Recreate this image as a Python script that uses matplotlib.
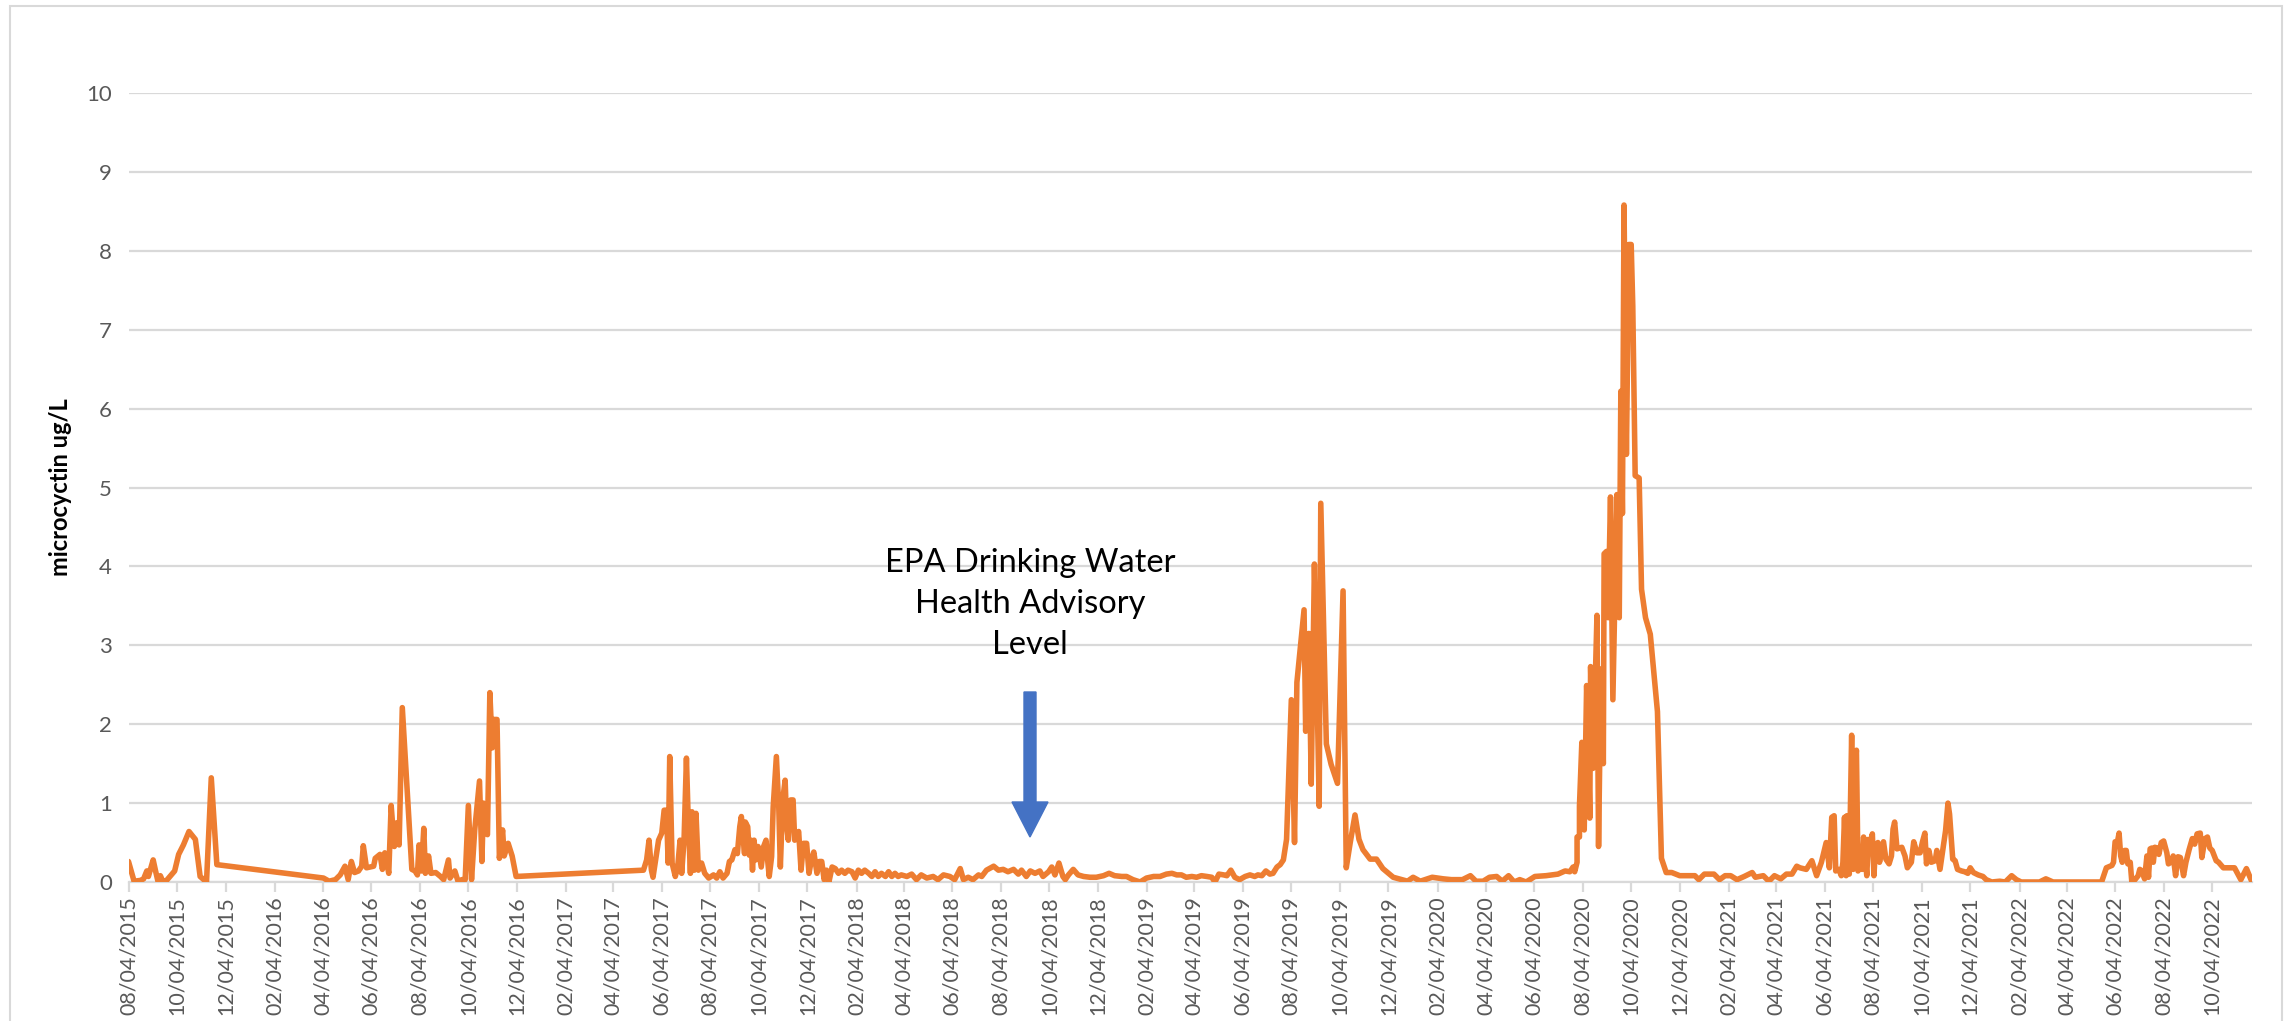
import matplotlib
matplotlib.use("Agg")
import matplotlib.pyplot as plt
import matplotlib.dates as mdates
from matplotlib.patches import FancyArrow, Rectangle
import pandas as pd

plt.rcParams['font.family'] = ['Lato', 'DejaVu Sans']

# ---------------- data ----------------
start_date = "2015-08-04"
end_date = "2022-11-23"

# days since start_date of each sample
day_offsets = [
    0, 7, 15, 19, 23, 25, 27, 31, 34, 37, 40, 43, 47, 52, 58, 63, 69, 76, 84, 90, 98, 104, 111,
    245, 252, 260, 266, 272, 276, 280, 284, 289, 293, 295, 299, 308, 310, 316, 319, 322, 327,
    330, 334, 337, 339, 340, 344, 356, 360, 363, 365, 368, 371, 373, 377, 380, 386, 392, 396,
    402, 404, 410, 414, 419, 423, 427, 431, 435, 441, 444, 446, 449, 451, 454, 457, 459, 463,
    466, 470, 472, 477, 482, 487,
    647, 651, 654, 657, 659, 666, 670, 673, 676, 678, 680, 683, 687, 690, 693, 695, 698, 701,
    703, 706, 708, 711, 713, 716, 720, 724, 729, 735, 739, 743, 747, 752, 755, 758, 762, 765,
    768, 770, 774, 775, 778, 780, 782, 784, 786, 788, 791, 795, 798, 801, 803, 805, 808, 810,
    814, 817, 819, 822, 825, 827, 829, 832, 835, 837, 842, 845, 848, 852, 855, 858, 861, 865,
    868, 871, 874, 877, 880, 884, 888, 892, 896, 900, 904, 909, 913, 917, 921, 925, 930, 934,
    938, 942, 946, 951, 955, 959, 963, 967,
    971, 978, 984, 990, 996, 1003, 1011, 1017, 1024, 1032, 1038, 1045, 1049, 1055, 1061, 1068,
    1072, 1078, 1087, 1093, 1099, 1105, 1112, 1118, 1122, 1128, 1133, 1139, 1145, 1149, 1156,
    1160, 1164, 1169, 1174, 1177, 1181, 1187, 1193, 1200, 1208, 1216, 1225, 1232, 1239, 1248,
    1254, 1262, 1271, 1279, 1288, 1296, 1304, 1311, 1317, 1323, 1329, 1336, 1342, 1348, 1355,
    1361, 1365, 1370, 1376, 1380, 1385, 1390, 1396, 1403, 1409, 1415, 1419, 1424, 1429, 1434,
    1438, 1443, 1447, 1451,
    1455, 1461, 1465, 1468, 1477, 1479, 1483, 1486, 1490, 1493, 1496, 1498, 1505, 1511, 1519,
    1526, 1530, 1535, 1541, 1546, 1551, 1560, 1568, 1576, 1589,
    1607, 1614, 1623, 1638, 1652, 1662, 1676, 1686, 1693, 1702, 1710, 1719, 1726, 1734, 1741,
    1748, 1756, 1767, 1781, 1796,
    1805, 1811, 1815, 1817, 1820, 1820, 1823, 1823, 1826, 1829, 1832, 1834, 1836, 1837, 1840,
    1845, 1847, 1850, 1853, 1854, 1857, 1859, 1862, 1865, 1870, 1873, 1875, 1877, 1879, 1882,
    1885, 1888, 1890, 1893, 1898, 1901, 1906, 1912, 1921, 1926,
    1932, 1939, 1949, 1958, 1968, 1973, 1980, 1992, 1999, 2006, 2013, 2021, 2030, 2040, 2044,
    2054, 2061, 2068, 2076, 2083, 2090, 2096,
    2100, 2108, 2115, 2121, 2127, 2133, 2137, 2140, 2143, 2145, 2149, 2152, 2154, 2156, 2158,
    2159, 2162, 2165, 2167, 2169, 2171, 2173, 2175, 2178, 2180, 2184, 2186, 2188, 2191, 2193,
    2195, 2198, 2200, 2205, 2208, 2212, 2215, 2217, 2219, 2222, 2228, 2232, 2235, 2240, 2243,
    2247, 2251, 2254, 2257, 2259, 2262, 2265, 2270, 2272, 2276, 2279, 2283, 2286, 2288, 2292,
    2295, 2298, 2303, 2307, 2311, 2314, 2318, 2324, 2330, 2334, 2341, 2351, 2358, 2366, 2372,
    2378, 2401, 2409, 2418, 2479,
    2485, 2492, 2494, 2496, 2499, 2501, 2503, 2505, 2508, 2510, 2512, 2515, 2517, 2521, 2525,
    2527, 2530, 2533, 2536, 2538, 2540, 2542, 2544, 2546, 2549, 2551, 2554, 2557, 2561, 2563,
    2566, 2569, 2572, 2575, 2578, 2582, 2585, 2589, 2593, 2596, 2599, 2603, 2605, 2609, 2612,
    2615, 2618, 2623, 2626, 2632, 2638, 2646, 2654, 2661, 2668,
]

# microcystin concentration (ug/L)
microcystin = [
    0.26, 0.01, 0.02, 0.04, 0.14, 0.07, 0.14, 0.28, 0.14, 0.01, 0.08, 0.01, 0.01, 0.07, 0.14, 0.35, 0.47, 0.64, 0.54, 0.07, 0.00, 1.32, 0.22,
    0.05, 0.01, 0.03, 0.09, 0.20, 0.03, 0.26, 0.12, 0.14, 0.20, 0.46, 0.18, 0.20, 0.30, 0.35, 0.16, 0.37, 0.11,
    0.97, 0.45, 0.75, 0.70, 0.47, 2.21, 0.16, 0.14, 0.09, 0.47, 0.14, 0.68, 0.11, 0.33, 0.11, 0.12, 0.07, 0.03,
    0.28, 0.05, 0.14, 0.01, 0.03, 0.03, 0.97, 0.03, 0.66, 1.28, 0.26, 1.00, 0.62, 0.60, 2.40, 1.70, 2.06, 2.06,
    0.30, 0.66, 0.33, 0.49, 0.33, 0.07,
    0.15, 0.28, 0.53, 0.15, 0.06, 0.53, 0.62, 0.91, 0.91, 0.24, 1.59, 0.24, 0.07, 0.19, 0.53, 0.11, 0.53, 1.57,
    0.87, 0.11, 0.89, 0.15, 0.87, 0.15, 0.24, 0.11, 0.05, 0.09, 0.05, 0.13, 0.05, 0.11, 0.26, 0.28, 0.41, 0.36,
    0.70, 0.83, 0.36, 0.76, 0.70, 0.34, 0.53, 0.15, 0.53, 0.28, 0.45, 0.19, 0.45, 0.53, 0.28, 0.07, 0.32, 0.95,
    1.59, 0.95, 0.19, 1.04, 1.29, 0.70, 0.53, 1.04, 1.04, 0.53, 0.64, 0.15, 0.49, 0.49, 0.11, 0.28, 0.38, 0.11,
    0.26, 0.26, 0.03, 0.15, 0.00, 0.19, 0.17, 0.11, 0.15, 0.11, 0.15, 0.13, 0.05, 0.15, 0.11, 0.15, 0.11, 0.07,
    0.13, 0.07, 0.11, 0.07, 0.13, 0.07, 0.11, 0.07,
    0.09, 0.07, 0.10, 0.03, 0.09, 0.05, 0.07, 0.03, 0.09, 0.07, 0.03, 0.17, 0.03, 0.06, 0.03, 0.09,
    0.07, 0.15, 0.20, 0.15, 0.16, 0.13, 0.16, 0.10, 0.15, 0.07, 0.14, 0.11, 0.14, 0.07, 0.13,
    0.19, 0.09, 0.24, 0.07, 0.03, 0.09, 0.16, 0.09, 0.07, 0.06, 0.06, 0.08, 0.11, 0.08, 0.07,
    0.07, 0.03, 0.00, 0.05, 0.07, 0.07, 0.10, 0.11, 0.09, 0.09, 0.06, 0.07, 0.06, 0.08, 0.07,
    0.06, 0.00, 0.10, 0.09, 0.08, 0.15, 0.06, 0.03, 0.07, 0.09, 0.07, 0.09, 0.08, 0.14, 0.10,
    0.11, 0.19, 0.22, 0.28,
    0.54, 2.31, 0.50, 2.53, 3.45, 1.91, 3.15, 1.24, 4.03, 2.59, 0.96, 4.80, 1.75, 1.49, 1.25,
    3.69, 0.18, 0.50, 0.85, 0.54, 0.41, 0.29, 0.29, 0.17, 0.06,
    0.01, 0.06, 0.01, 0.06, 0.04, 0.03, 0.03, 0.08, 0.01, 0.01, 0.06, 0.07, 0.01, 0.08, 0.00,
    0.03, 0.00, 0.07, 0.08, 0.10,
    0.14, 0.13, 0.19, 0.13, 0.25, 0.57, 0.57, 0.96, 1.77, 0.66, 2.49, 1.80, 0.81, 2.73, 1.44,
    3.38, 0.45, 2.70, 1.50, 4.16, 4.19, 3.35, 4.88, 2.31, 4.91, 3.35, 6.22, 4.67, 8.58, 5.42,
    8.08, 8.08, 7.30, 5.15, 5.12, 3.71, 3.35, 3.14, 2.16, 0.30,
    0.12, 0.12, 0.08, 0.08, 0.08, 0.03, 0.10, 0.10, 0.03, 0.08, 0.08, 0.03, 0.07, 0.12, 0.06,
    0.08, 0.01, 0.08, 0.04, 0.10, 0.10, 0.20,
    0.18, 0.16, 0.27, 0.08, 0.25, 0.50, 0.18, 0.82, 0.84, 0.14, 0.16, 0.08, 0.25, 0.82, 0.08,
    0.84, 0.10, 1.86, 0.16, 1.44, 1.67, 0.14, 0.42, 0.16, 0.57, 0.08, 0.54, 0.42, 0.61, 0.08,
    0.46, 0.50, 0.25, 0.51, 0.29, 0.23, 0.33, 0.67, 0.76, 0.42, 0.44, 0.33, 0.18, 0.25, 0.51,
    0.37, 0.37, 0.51, 0.62, 0.23, 0.40, 0.25, 0.27, 0.40, 0.16, 0.37, 0.65, 1.00, 0.86, 0.29,
    0.27, 0.16, 0.14, 0.13, 0.11, 0.18, 0.12, 0.09, 0.07, 0.03, 0.00, 0.01, 0.00, 0.08, 0.03,
    0.00, 0.00, 0.04, 0.00, 0.00,
    0.18, 0.21, 0.25, 0.51, 0.51, 0.62, 0.33, 0.25, 0.40, 0.40, 0.23, 0.25, 0.00, 0.03, 0.08,
    0.16, 0.14, 0.04, 0.33, 0.06, 0.42, 0.43, 0.25, 0.44, 0.43, 0.35, 0.50, 0.52, 0.37, 0.23,
    0.25, 0.33, 0.08, 0.32, 0.31, 0.08, 0.25, 0.41, 0.55, 0.48, 0.61, 0.62, 0.31, 0.55, 0.57,
    0.43, 0.40, 0.27, 0.25, 0.18, 0.18, 0.18, 0.03, 0.17, 0.00,
]

y_ticks = list(range(0, 11))
y_label = "microcyctin ug/L"
annotation_text = "EPA Drinking Water\nHealth Advisory\nLevel"

# ---------------- figure ----------------
W, H = 2287, 1021
fig = plt.figure(figsize=(W / 100, H / 100), dpi=100)
ax = fig.add_axes([128.5 / W, 1 - 882 / H, (2252 - 128.5) / W, (882 - 93) / H])

dates = pd.Timestamp(start_date) + pd.to_timedelta(day_offsets, unit="D")
ax.plot(dates, microcystin, color="#ED7D31", lw=4.0,
        solid_joinstyle="round", solid_capstyle="round", zorder=3)

ax.set_xlim(pd.Timestamp(start_date), pd.Timestamp(end_date))
ax.set_ylim(0, 10)
ax.set_yticks(y_ticks)
ax.yaxis.grid(True, color="#D9D9D9", lw=1.6)
ax.set_axisbelow(True)
for s in ["top", "right", "left"]:
    ax.spines[s].set_visible(False)
ax.spines["bottom"].set_color("#D9D9D9")
ax.spines["bottom"].set_linewidth(1.6)

ax.xaxis.set_major_locator(mdates.MonthLocator(bymonth=[2, 4, 6, 8, 10, 12], bymonthday=4))
ax.xaxis.set_major_formatter(mdates.DateFormatter("%m/%d/%Y"))
ax.tick_params(axis="x", rotation=90, color="#D9D9D9", labelcolor="#595959",
               labelsize=15.5, length=7, width=1.6, pad=3)
ax.tick_params(axis="y", length=0, labelcolor="#595959", labelsize=16, pad=12)

ax.set_ylabel(y_label, fontsize=17, fontweight="bold", va="center")
ax.yaxis.set_label_coords((61 - 128.5) / (2252 - 128.5), 0.5)

fig.text(1030 / W, 1 - 604 / H, annotation_text, ha="center", va="center",
         fontsize=23.5, linespacing=1.45, color="black")

fig.add_artist(FancyArrow(10.30, 3.29, 0, -1.45, width=0.12, head_width=0.36,
                          head_length=0.35, length_includes_head=True,
                          color="#4472C4", transform=fig.dpi_scale_trans))

fig.add_artist(Rectangle((10 / W, -0.02), (2282 - 10) / W, 1.02 - 6 / H, fill=False,
                         edgecolor="#D9D9D9", lw=1.5, transform=fig.transFigure))

fig.savefig("out.png", dpi=100)
